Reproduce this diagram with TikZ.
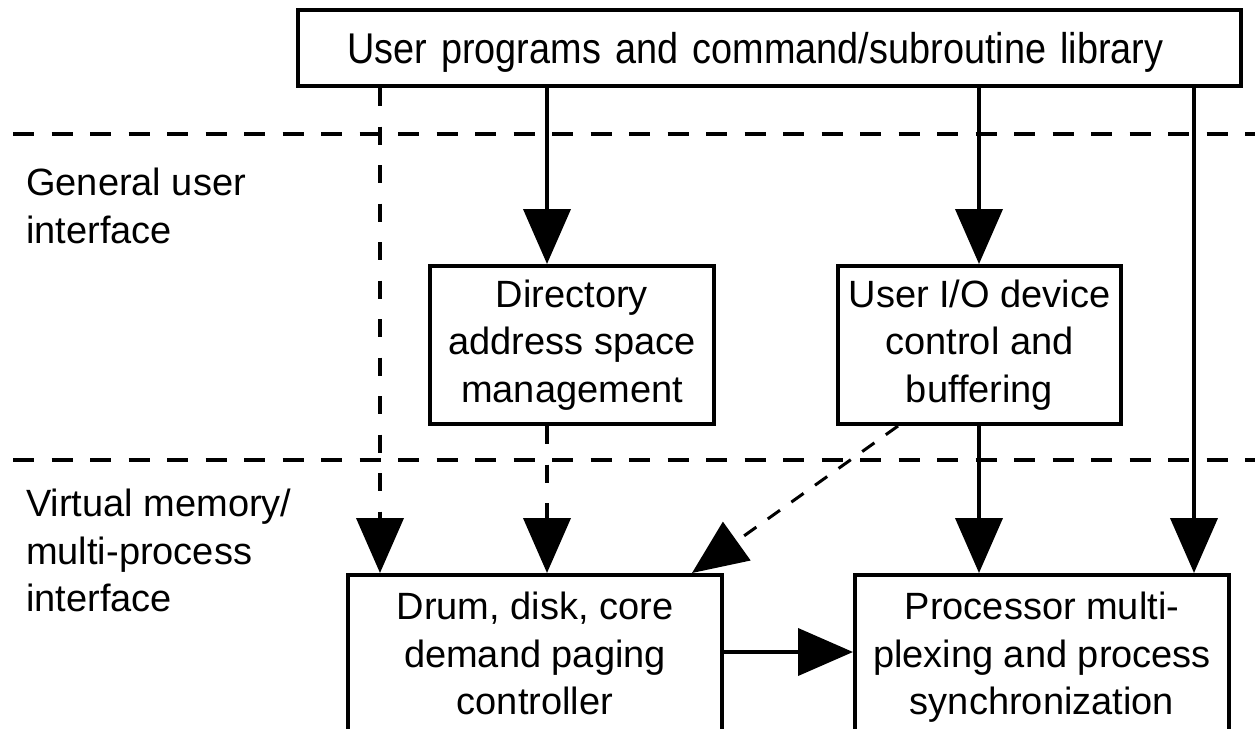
\documentclass[tikz,border=0pt]{standalone}
\usepackage{fontspec}
\setmainfont{Liberation Sans}
\newfontfamily\headfont[FakeStretch=0.88]{Liberation Sans}
\usetikzlibrary{arrows.meta}

\tikzset{
  boxfont/.style={font=\fontsize{38pt}{47.5pt}\selectfont},
  box/.style={draw, line width=4pt, inner sep=0pt, anchor=north west, boxfont},
  closedbox/.style={box, align=center},
  lbl/.style={inner sep=0pt, anchor=north west, align=left, boxfont},
  bigtip/.style={-{Triangle[length=55pt,width=47pt]}},
  conn/.style={line width=4pt, bigtip},
  dashconn/.style={conn, dash pattern=on 18pt off 20.5pt},
  diag/.style={line width=3pt, dash pattern=on 15pt off 14pt, bigtip},
  sep/.style={line width=4pt, dash pattern=on 21pt off 17.5pt, dash phase=25.5pt}
}

\begin{document}
\begin{tikzpicture}[x=1pt, y=-1pt]
  \useasboundingbox (0,0) rectangle (1255,728);
  \fill[white] (0,0) rectangle (1255,728);
  \clip (0,0) rectangle (1255,728);

  % layer separators
  \draw[sep] (0,134) -- (1255,134);
  \draw[sep] (0,460) -- (1255,460);

  % layer names
  \node[lbl] (gui) at (26,168) {General user\\interface};
  \node[lbl] (vmi) at (26,489) {Virtual memory/\\multi-process\\interface};

  % modules
  \node[box, minimum width=943pt, minimum height=76pt, text width=845pt,
        inner xsep=49pt, align=left, text depth=0pt,
        font=\headfont\fontsize{43pt}{50pt}\selectfont]
        (top) at (296,8) {User programs and command/subroutine library};
  \node[closedbox, minimum width=284pt, minimum height=158pt]
        (dir) at (428,264) {Directory\\address space\\management};
  \node[closedbox, minimum width=283pt, minimum height=158pt]
        (io) at (836,264) {User I/O device\\control and\\buffering};
  \node[box, minimum width=374pt, inner ysep=17pt]
        (drum) at (346,573) {\parbox[t][190pt][t]{370pt}{\centering Drum, disk, core\\demand paging\\controller}};
  \node[box, minimum width=374pt, inner ysep=17pt]
        (proc) at (853,573) {\parbox[t][190pt][t]{370pt}{\centering Processor multi-\\plexing and process\\synchronization}};

  % connector positions
  \coordinate (xA) at (380,0);
  \coordinate (xB) at (547,0);
  \coordinate (xC) at (979,0);
  \coordinate (xD) at (1194,0);
  \coordinate (xE) at (898,0);
  \coordinate (xF) at (692,0);
  \coordinate (yG) at (0,652);

  % connectors
  \draw[dashconn] (top.south -| xA) -- (drum.north -| xA);
  \draw[conn] (top.south -| xB) -- (dir.north -| xB);
  \draw[dashconn] (dir.south -| xB) -- (drum.north -| xB);
  \draw[conn] (top.south -| xC) -- (io.north -| xC);
  \draw[conn] (io.south -| xC) -- (proc.north -| xC);
  \draw[conn] (top.south -| xD) -- (proc.north -| xD);
  \draw[diag] (io.south -| xE) -- (drum.north -| xF);
  \draw[conn] (drum.east |- yG) -- (proc.west |- yG);
\end{tikzpicture}
\end{document}
